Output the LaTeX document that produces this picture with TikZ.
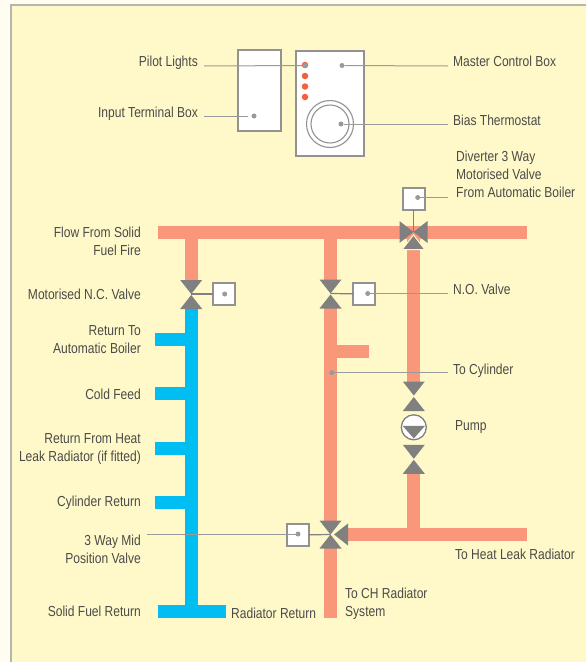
\documentclass[tikz,border=0pt]{standalone}
\usepackage{fontspec}
\setmainfont[FakeStretch=0.83]{Liberation Sans}
\definecolor{paper}{HTML}{FFFDF0}
\definecolor{panel}{HTML}{FFF9C9}
\definecolor{panelline}{HTML}{B4B4B0}
\definecolor{hot}{HTML}{F9977A}
\definecolor{cold}{HTML}{00BDF2}
\definecolor{valvegrey}{HTML}{808080}
\definecolor{linegrey}{HTML}{9A9A9A}
\definecolor{boxgrey}{HTML}{929292}
\definecolor{lamp}{HTML}{F4603C}
\definecolor{labelgrey}{HTML}{4A4A48}
\tikzset{
  x=1pt,y=-1pt,
  hotpipe/.style={fill=hot,draw=none},
  coldpipe/.style={fill=cold,draw=none},
  leader/.style={draw=linegrey,line width=1pt},
  link/.style={draw=valvegrey,line width=1.2pt},
  actbox/.style={draw=boxgrey,fill=white,line width=2pt,minimum size=22pt,inner sep=0pt,outer sep=0pt},
  pindot/.style={circle,fill=linegrey,draw=none,minimum size=5pt,inner sep=0pt,outer sep=0pt},
  lampdot/.style={circle,fill=lamp,draw=none,minimum size=6.5pt,inner sep=0pt},
  lab/.style={text=labelgrey,inner sep=0pt,font=\fontsize{14.5}{18}\selectfont},
  labr/.style={lab,anchor=east,align=right},
  labl/.style={lab,anchor=west,align=left},
  pics/tridown/.style={code={\fill[valvegrey] (-11,-14)--(11,-14)--(0,0)--cycle;}},
  pics/triup/.style={code={\fill[valvegrey] (-11,14)--(11,14)--(0,0)--cycle;}},
  pics/trileft/.style={code={\fill[valvegrey] (-14,-11)--(-14,11)--(0,0)--cycle;}},
  pics/triright/.style={code={\fill[valvegrey] (14,-11)--(14,11)--(0,0)--cycle;}},
}
\begin{document}
\begin{tikzpicture}
\useasboundingbox (0,0) rectangle (586,662);
\fill[paper] (0,0) rectangle (586,662);
\fill[panel] (11,5) rectangle (586,662);
\draw[panelline,line width=2pt] (11,662) -- (11,5) -- (586,5);

% pipes
\fill[hotpipe] (158,225.5) rectangle (527,238.5);
\fill[hotpipe] (184.7,238) rectangle (197.7,282);
\fill[hotpipe] (324,238) rectangle (337,282);
\fill[hotpipe] (324,306) rectangle (337,522);
\fill[hotpipe] (324,547) rectangle (337,617.5);
\fill[hotpipe] (336,345) rectangle (369,358);
\fill[hotpipe] (407,238) rectangle (420,384);
\fill[hotpipe] (407,471) rectangle (420,530);
\fill[hotpipe] (346,528.3) rectangle (527,541.3);
\fill[coldpipe] (184.7,307) rectangle (197.7,606);
\fill[coldpipe] (157.8,605) rectangle (226,618);
\fill[coldpipe] (154.5,333.3) rectangle (185,346);
\fill[coldpipe] (154.5,387.3) rectangle (185,400);
\fill[coldpipe] (154.5,442.3) rectangle (185,455);
\fill[coldpipe] (154.5,496) rectangle (185,509);

% control boxes
\node[draw=boxgrey,fill=white,line width=2pt,minimum width=43pt,minimum height=81pt,inner sep=0pt] (input) at (259,90.5) {};
\node[draw=boxgrey,fill=white,line width=2pt,minimum width=68pt,minimum height=105pt,inner sep=0pt] (master) at (330,103) {};
\node[lampdot] (lamp1) at (305,65) {};
\node[lampdot] (lamp2) at (305,76) {};
\node[lampdot] (lamp3) at (305,86.5) {};
\node[lampdot] (lamp4) at (305,97) {};
\node[circle,draw=boxgrey,line width=1.1pt,minimum size=47pt,inner sep=0pt] (dialout) at (330,124) {};
\node[circle,draw=boxgrey,line width=1.1pt,minimum size=38pt,inner sep=0pt] (dialin) at (330,124) {};

% actuators
\node[actbox] (act1) at (224,294) {};
\node[actbox] (act2) at (364,294) {};
\node[actbox] (act3) at (414,199) {};
\node[actbox] (act4) at (298,535) {};

% valve centres
\coordinate (v1) at (191.2,294);
\coordinate (v2) at (330.5,293.5);
\coordinate (v3) at (413.5,232);
\coordinate (v4) at (330.5,534.5);

\draw[link] (v1) -- (act1);
\draw[link] (v2) -- (act2);
\draw[link] (v3) -- (act3.south -| v3);
\draw[link] (v4) -- (act4);

\pic at (v1) {tridown};
\pic at ([yshift=-1pt]v1) {triup};
\pic at (v2) {tridown};
\pic at ([yshift=-1pt]v2) {triup};
\pic at (v3) {trileft};
\pic at (v3) {triright};
\filldraw[fill=valvegrey,draw=panel,line width=1pt] (402.2,249.5) -- (424.8,249.5) -- (413.5,235) -- cycle;
\pic at (v4) {tridown};
\pic at (v4) {triup};
\pic at ([xshift=3.5pt]v4) {triright};

% pump
\coordinate (pa) at (413.8,395.5);
\coordinate (pb) at (413.8,458.8);
\pic at (pa) {tridown};
\pic at ([yshift=-1.5pt]pa) {triup};
\node[circle,draw=valvegrey,fill=white,line width=1.3pt,minimum size=25pt,inner sep=0pt] (pump) at (413.8,427.3) {};
\fill[valvegrey] (402.6,425.8) -- (425,425.8) -- (413.8,438.5) -- cycle;
\pic at (pb) {tridown};
\pic at ([yshift=-1pt]pb) {triup};

% dots
\node[pindot] (dinput) at (254,116) {};
\node[pindot] (dlamp) at (305,65.5) {};
\node[pindot] (dmaster) at (342,65.5) {};
\node[pindot] (dbias) at (341,124) {};
\node[pindot] (dact1) at (224.7,294) {};
\node[pindot] (dact2) at (367.7,293.5) {};
\node[pindot] (dact3) at (417.7,197.5) {};
\node[pindot] (dact4) at (298,534) {};
\node[pindot] (dcyl) at (331.7,372.7) {};

% leader ends
\coordinate (epilot) at (204,66);
\coordinate (einput) at (204,116);
\coordinate (einputb) at (248,116);
\coordinate (emaster) at (448,66);
\coordinate (ebias) at (448,124);
\coordinate (eact3) at (448,197.5);
\coordinate (eno) at (448,293.5);
\coordinate (ecyl) at (448,372.7);
\coordinate (emid) at (147,534);

\draw[leader] (epilot) -- (dlamp);
\draw[leader] (einput) -- (einputb);
\draw[leader] (dmaster) -- (emaster);
\draw[leader] (dbias) -- (ebias);
\draw[leader] (dact3) -- (eact3);
\draw[leader] (dact2) -- (eno);
\draw[leader] (dcyl) -- (ecyl);
\draw[leader] (emid) -- (dact4);

% labels
\node[labr] (tpilot) at (198,63) {Pilot Lights};
\node[labr] (tinput) at (198,114) {Input Terminal Box};
\node[labl] (tmaster) at (453,61) {Master Control Box};
\node[labl] (tbias) at (453,120) {Bias Thermostat};
\node[labl] (tdiv) at (456,174) {Diverter 3 Way\\Motorised Valve\\From Automatic Boiler};
\node[labr] (tflow) at (141,241) {Flow From Solid\\Fuel Fire};
\node[labr] (tnc) at (141,294) {Motorised N.C. Valve};
\node[labl] (tno) at (453,289) {N.O. Valve};
\node[labr] (tretauto) at (141,340) {Return To\\Automatic Boiler};
\node[labl] (tcyl) at (453,371) {To Cylinder};
\node[labr] (tcold) at (141,394) {Cold Feed};
\node[labl] (tpump) at (455,427) {Pump};
\node[labr] (theat) at (141,449) {Return From Heat\\Leak Radiator (if fitted)};
\node[labr] (tcylret) at (141,503) {Cylinder Return};
\node[labr] (tmid) at (141,549) {3 Way Mid\\Position Valve};
\node[labl] (theatleak) at (455,554) {To Heat Leak Radiator};
\node[labr] (tsolid) at (141,611) {Solid Fuel Return};
\node[labl] (trad) at (231,613) {Radiator Return};
\node[labl] (tch) at (345,604) {To CH Radiator\\System};
\end{tikzpicture}
\end{document}
